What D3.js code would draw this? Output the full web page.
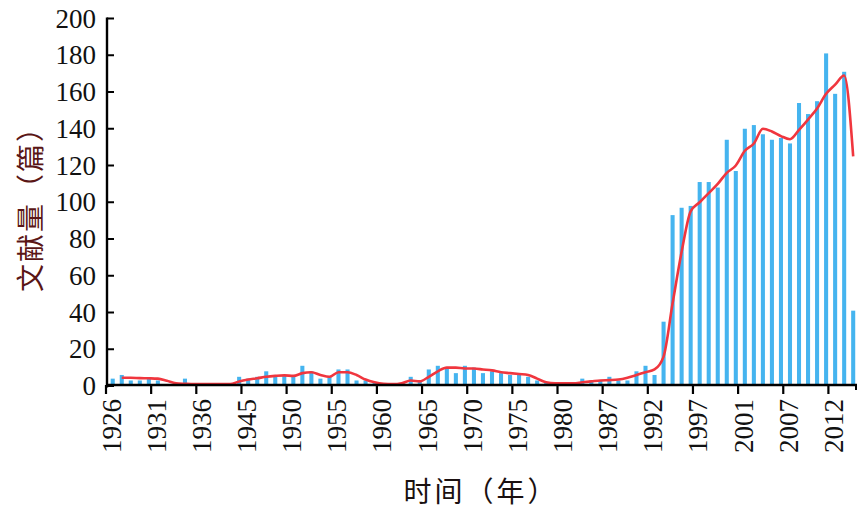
<!DOCTYPE html>
<html>
<head>
<meta charset="utf-8">
<script src="https://cdn.jsdelivr.net/npm/d3@7"></script>
<style>
  html, body { margin: 0; padding: 0; background: #fff; }
  svg { display: block; }
</style>
</head>
<body>
<svg id="chart" width="866" height="511"></svg>
<script>
// ---- data ----
const tickLabels = ["1926","1931","1936","1945","1950","1955","1960","1965","1970","1975","1980","1987","1992","1997","2001","2007","2012"];
const tickEvery = 5;
const counts = [4,6,3,3,4,3,0,0,4,0,0,0,0,0,5,4,5,8,6,6,5,11,8,4,5,9,9,3,3,2,1,0,0,5,3,9,11,10,7,11,10,7,8,7,6,6,5,3,2,2,1,1,4,3,3,5,3,3,8,11,6,35,93,97,98,111,111,108,134,117,140,142,137,134,135,132,154,148,155,181,159,171,41];
// smoothed trend line, starting at the second category
const trend = [null,4.5,4.5,4.3,4.2,4,2.8,1.5,1.2,1,1,1,1,1,2.5,3.5,4.2,5,5.5,5.8,5.5,7,7.5,6,5,7.5,7.5,6,3.5,2,1.2,1,1.5,3,2.5,5,8,10,10,9.5,9.5,9,8.5,7.5,7,6.5,6,4,2,1.5,1.5,1.5,2,2.5,3,3.2,3.5,4.5,6,7.5,9,16,45,73,95,100,105,110,116,120,128,132,140,138.5,136,134.3,139.4,145,151,159,164,169,125];
const yTicks = [0,20,40,60,80,100,120,140,160,180,200];
const yTitle = "文献量（篇）";
const xTitle = "时间（年）";

const svg = d3.select("#chart");
const idx = d3.range(counts.length);

const x = d3.scaleBand().domain(idx).range([106, 855.5]).padding(0);
const y = d3.scaleLinear().domain([0, 200]).range([386, 18.5]);
const bw = x.bandwidth();

const barColor = "#45b4ef";
const lineColor = "#f0363e";
const textFont = "'Liberation Serif', 'Times New Roman', serif";

// bars
svg.append("g").selectAll("rect").data(idx).join("rect")
  .attr("x", i => x(i) + bw * 0.52)
  .attr("width", bw * 0.45)
  .attr("y", i => y(counts[i]))
  .attr("height", i => y(0) - y(counts[i]))
  .attr("fill", barColor);

// trend line
const lineData = idx.filter(i => trend[i] != null);
svg.append("path")
  .datum(lineData)
  .attr("fill", "none")
  .attr("stroke", lineColor)
  .attr("stroke-width", 2.6)
  .attr("stroke-linejoin", "round")
  .attr("d", d3.line()
    .x(i => x(i) + bw * 0.745)
    .y(i => y(trend[i]))
    .curve(d3.curveMonotoneX));

// y axis
const yAxis = svg.append("g");
yAxis.append("line")
  .attr("x1", 107).attr("x2", 107)
  .attr("y1", y(200) - 1).attr("y2", y(0) + 1.5)
  .attr("stroke", "#000").attr("stroke-width", 2.4);
yAxis.selectAll("line.tk").data(yTicks).join("line")
  .attr("class", "tk")
  .attr("x1", 107).attr("x2", 114)
  .attr("y1", d => y(d)).attr("y2", d => y(d))
  .attr("stroke", "#000").attr("stroke-width", 2);
yAxis.selectAll("text").data(yTicks).join("text")
  .attr("x", 96)
  .attr("y", d => y(d))
  .attr("text-anchor", "end")
  .attr("dominant-baseline", "central")
  .attr("font-family", textFont)
  .attr("font-size", 27)
  .attr("fill", "#111")
  .text(d => d);

// x axis
const xAxis = svg.append("g");
xAxis.append("line")
  .attr("x1", 106).attr("x2", 857)
  .attr("y1", 385).attr("y2", 385)
  .attr("stroke", "#000").attr("stroke-width", 2.6);
const tickIdx = tickLabels.map((_, k) => k * tickEvery);
xAxis.selectAll("line.tk").data(tickIdx).join("line")
  .attr("class", "tk")
  .attr("x1", i => x(i)).attr("x2", i => x(i))
  .attr("y1", 385).attr("y2", 394)
  .attr("stroke", "#000").attr("stroke-width", 2.2);
xAxis.append("line")
  .attr("x1", 856).attr("x2", 856)
  .attr("y1", 385).attr("y2", 390)
  .attr("stroke", "#000").attr("stroke-width", 2);
xAxis.selectAll("text").data(tickIdx).join("text")
  .attr("transform", (i, k) => `translate(${x(i) + bw / 2 + 1},399) rotate(-90)`)
  .attr("text-anchor", "end")
  .attr("dominant-baseline", "central")
  .attr("font-family", textFont)
  .attr("font-size", 27)
  .attr("fill", "#111")
  .text((i, k) => tickLabels[k]);

// titles
svg.append("text")
  .attr("transform", "translate(29,202) rotate(-90)")
  .attr("text-anchor", "middle")
  .attr("dominant-baseline", "central")
  .attr("font-family", "'Noto Sans CJK SC', sans-serif")
  .attr("font-size", 28)
  .attr("letter-spacing", 2)
  .attr("fill", "#5a1616")
  .text(yTitle);

svg.append("text")
  .attr("x", 481)
  .attr("y", 490)
  .attr("text-anchor", "middle")
  .attr("dominant-baseline", "central")
  .attr("font-family", "'Noto Sans CJK SC', sans-serif")
  .attr("font-size", 28)
  .attr("letter-spacing", 3)
  .attr("fill", "#1a1010")
  .text(xTitle);
</script>
</body>
</html>
